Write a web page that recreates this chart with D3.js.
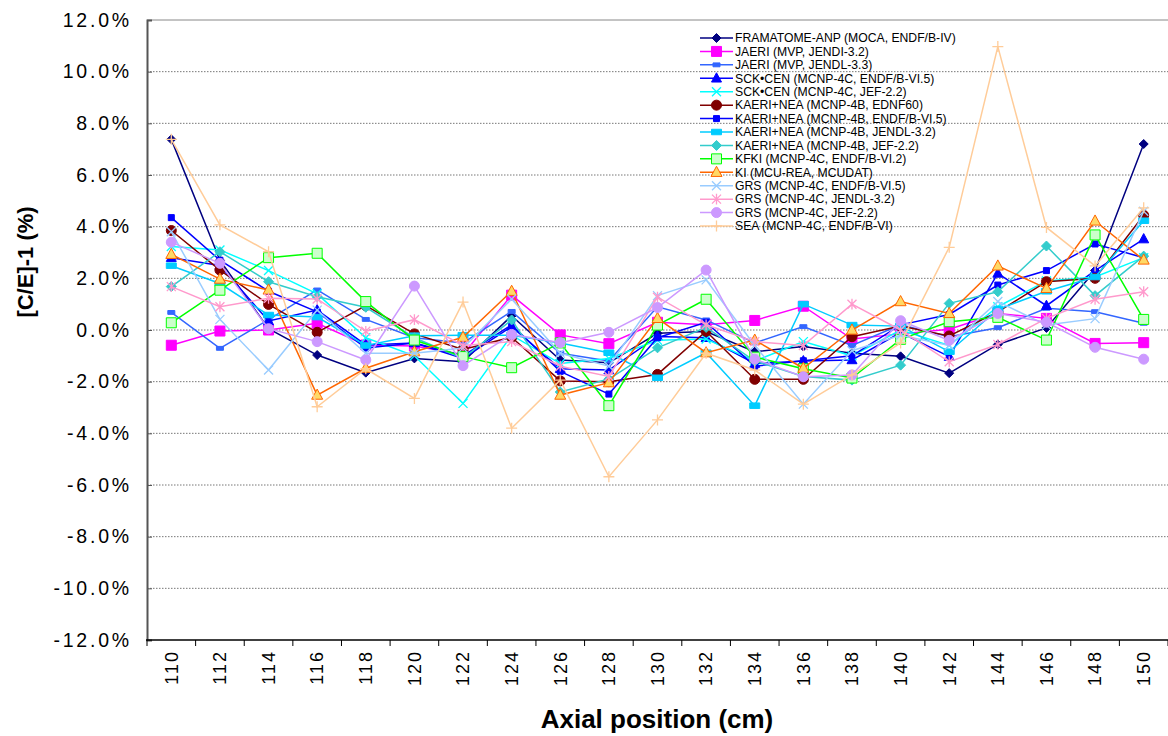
<!DOCTYPE html>
<html>
<head>
<meta charset="utf-8">
<script src="https://cdn.jsdelivr.net/npm/d3@7"></script>
<style>
  body { margin: 0; background: #fff; }
  svg { display: block; font-family: Arial, "Liberation Sans", sans-serif; }
</style>
</head>
<body>
<svg id="chart" width="1168" height="736"></svg>
<script>
// axial positions (cm) and y ticks (%)
var positions = [110, 112, 114, 116, 118, 120, 122, 124, 126, 128, 130, 132, 134, 136, 138, 140, 142, 144, 146, 148, 150];
var yTickValues = [-12, -10, -8, -6, -4, -2, 0, 2, 4, 6, 8, 10, 12];

var seriesNames = [
  "FRAMATOME-ANP (MOCA, ENDF/B-IV)",
  "JAERI (MVP, JENDI-3.2)",
  "JAERI (MVP, JENDL-3.3)",
  "SCK\u2022CEN (MCNP-4C, ENDF/B-VI.5)",
  "SCK\u2022CEN (MCNP-4C, JEF-2.2)",
  "KAERI+NEA (MCNP-4B, EDNF60)",
  "KAERI+NEA (MCNP-4B, ENDF/B-VI.5)",
  "KAERI+NEA (MCNP-4B, JENDL-3.2)",
  "KAERI+NEA (MCNP-4B, JEF-2.2)",
  "KFKI (MCNP-4C, ENDF/B-VI.2)",
  "KI (MCU-REA, MCUDAT)",
  "GRS (MCNP-4C, ENDF/B-VI.5)",
  "GRS (MCNP-4C, JENDL-3.2)",
  "GRS (MCNP-4C, JEF-2.2)",
  "SEA (MCNP-4C, ENDF/B-VI)"
];

// [C/E]-1 in %
var framatome  = [7.38, 2.7, 0.05, -0.97, -1.65, -1.1, -1.23, 0.55, -1.16, -1.27, -0.13, -0.06, -0.84, -0.64, -0.9, -1.02, -1.67, -0.56, 0.08, 2.3, 7.2];
var jaeriJ32   = [-0.59, -0.04, 0.0, 0.26, -0.58, -0.62, -0.95, 1.35, -0.19, -0.53, 0.3, 0.2, 0.37, 0.92, -0.35, -0.15, 0.03, 0.64, 0.45, -0.52, -0.49];
var jaeriJ33   = [0.68, -0.71, 0.4, 1.55, 0.41, -0.3, -0.5, 0.72, -0.9, -1.2, 0.9, 0.39, -0.5, 0.13, -0.6, 0.2, -0.26, 0.09, 0.84, 0.71, 0.26];
var sckEndf    = [2.8, 2.5, 0.35, 0.77, -0.58, -0.5, -1.1, 0.13, -1.5, -1.55, -0.25, -0.3, -1.3, -1.2, -1.16, -0.1, -1.03, 2.19, 0.94, 2.3, 3.52];
var sckJef     = [3.23, 3.1, 2.3, 1.4, -0.3, -1.0, -2.84, -0.2, -1.3, -1.1, -0.4, -0.35, -1.2, -0.45, -1.0, 0.0, -0.6, 0.9, 1.9, 2.05, 2.8];
var kaeriEdnf  = [3.85, 2.32, 0.99, -0.09, 0.94, -0.15, -0.75, -0.28, -1.97, -2.0, -1.72, -0.05, -1.91, -1.91, -0.26, 0.15, -0.23, 0.7, 1.87, 2.0, 4.44];
var kaeriEndf  = [4.35, 2.7, 1.5, 0.7, -0.7, -0.5, -1.0, 0.2, -1.6, -2.48, -0.3, 0.3, -1.4, -1.19, -1.0, 0.2, 0.6, 1.74, 2.3, 3.33, 2.8];
var kaeriJendl = [2.49, 1.8, 0.58, 0.5, -0.6, -0.22, -0.2, -0.2, -0.5, -0.88, -1.85, -0.88, -2.93, 1.0, 0.19, 0.15, -0.84, 0.8, 1.5, 2.05, 4.23];
var kaeriJef   = [1.68, 3.03, 1.87, 1.29, 0.88, -0.3, -1.1, 0.39, -2.4, -1.9, -0.69, 0.1, -1.2, -1.8, -1.94, -1.36, 1.03, 1.48, 3.25, 1.33, 2.86];
var kfki       = [0.28, 1.54, 2.8, 2.97, 1.1, -0.39, -1.03, -1.46, -0.5, -2.93, 0.19, 1.19, -1.05, -1.5, -1.86, -0.36, 0.32, 0.49, -0.39, 3.68, 0.41];
var ki         = [2.93, 1.97, 1.55, -2.52, -1.48, -0.84, -0.28, 1.5, -2.52, -2.04, 0.45, -0.88, -0.39, -1.48, 0.0, 1.1, 0.64, 2.48, 1.61, 4.22, 2.71];
var grsEndf    = [3.8, 0.41, -1.55, 0.77, -0.9, -0.9, -0.7, 1.2, -0.9, -1.4, 1.33, 1.94, -0.6, -2.87, -0.8, -0.2, -0.6, 1.1, 0.19, 0.44, 4.6];
var grsJendl   = [1.68, 0.9, 1.23, 1.2, -0.05, 0.4, -0.6, -0.45, -1.4, -1.8, 1.27, 0.2, -0.45, -0.6, 1.0, 0.0, -1.23, -0.56, 0.45, 1.19, 1.48];
var grsJef     = [3.4, 2.58, 0.05, -0.45, -1.16, 1.7, -1.38, -0.17, -0.49, -0.09, 0.87, 2.32, -1.13, -1.81, -1.74, 0.36, -0.4, 0.64, 0.3, -0.67, -1.13];
var sea        = [7.38, 4.07, 3.03, -2.97, -1.5, -2.65, 1.08, -3.8, -1.94, -5.68, -3.48, -0.9, -1.55, -2.87, -1.74, -0.5, 3.2, 10.97, 3.97, 2.48, 4.73];

var seriesValues = [framatome, jaeriJ32, jaeriJ33, sckEndf, sckJef, kaeriEdnf, kaeriEndf,
                    kaeriJendl, kaeriJef, kfki, ki, grsEndf, grsJendl, grsJef, sea];

// custom marker shapes (size = half width squared)
var shapes = {
  diamond: { draw: function(c, s) { var r = Math.sqrt(s); c.moveTo(0, -r); c.lineTo(r, 0); c.lineTo(0, r); c.lineTo(-r, 0); c.closePath(); } },
  square: { draw: function(c, s) { var r = Math.sqrt(s); c.rect(-r, -r, 2 * r, 2 * r); } },
  rect: { draw: function(c, s) { var r = Math.sqrt(s); c.rect(-r, -r * 0.55, 2 * r, r * 1.1); } },
  triangle: { draw: function(c, s) { var r = Math.sqrt(s); c.moveTo(0, -r * 1.1); c.lineTo(r, r * 0.75); c.lineTo(-r, r * 0.75); c.closePath(); } },
  circle: { draw: function(c, s) { var r = Math.sqrt(s); c.moveTo(r, 0); c.arc(0, 0, r, 0, 2 * Math.PI); } },
  times: { draw: function(c, s) { var r = Math.sqrt(s); c.moveTo(-r, -r); c.lineTo(r, r); c.moveTo(r, -r); c.lineTo(-r, r); } },
  star: { draw: function(c, s) { var r = Math.sqrt(s); c.moveTo(-r, -r); c.lineTo(r, r); c.moveTo(r, -r); c.lineTo(-r, r); c.moveTo(0, -r * 1.2); c.lineTo(0, r * 1.2); } },
  plus: { draw: function(c, s) { var r = Math.sqrt(s); c.moveTo(-r, 0); c.lineTo(r, 0); c.moveTo(0, -r); c.lineTo(0, r); } }
};

var seriesStyles = [
  { color: "#000080", shape: "diamond",  r: 4.5, fill: "#000080" },
  { color: "#ff00ff", shape: "square",   r: 5,   fill: "#ff00ff" },
  { color: "#3366ff", shape: "rect",     r: 3.5, fill: "#3366ff" },
  { color: "#0000ff", shape: "triangle", r: 5,   fill: "#0000ff" },
  { color: "#00ffff", shape: "times",    r: 4.5, fill: "none" },
  { color: "#800000", shape: "circle",   r: 5,   fill: "#800000" },
  { color: "#0000ff", shape: "square",   r: 3,   fill: "#0000ff" },
  { color: "#00ccff", shape: "rect",     r: 5,   fill: "#00ccff" },
  { color: "#33cccc", shape: "diamond",  r: 5,   fill: "#33cccc" },
  { color: "#00ff00", shape: "square",   r: 5,   fill: "#ccffcc" },
  { color: "#ff6600", shape: "triangle", r: 5.5, fill: "#ffd966" },
  { color: "#99ccff", shape: "times",    r: 4.5, fill: "none" },
  { color: "#ff99cc", shape: "star",     r: 4.5, fill: "none" },
  { color: "#cc99ff", shape: "circle",   r: 5,   fill: "#cc99ff" },
  { color: "#ffcc99", shape: "plus",     r: 5.5, fill: "none" }
];

var svg = d3.select("#chart");
var plotLeft = 147, plotRight = 1168, plotTop = 20, plotBottom = 640;

var x = d3.scaleBand().domain(positions).range([plotLeft, plotRight]);
var y = d3.scaleLinear().domain([-12, 12]).range([plotBottom, plotTop]);
var cx = function(p) { return x(p) + x.bandwidth() / 2; };

// gridlines
svg.append("g").selectAll("line")
  .data(yTickValues.filter(function(d) { return d > -12 && d < 12; }))
  .enter().append("line")
    .attr("x1", plotLeft).attr("x2", plotRight)
    .attr("y1", function(d) { return y(d); }).attr("y2", function(d) { return y(d); })
    .attr("stroke", "#777").attr("stroke-width", 1).attr("stroke-dasharray", "1.5,1.5");

svg.append("line").attr("x1", plotLeft).attr("x2", plotRight).attr("y1", plotTop).attr("y2", plotTop)
  .attr("stroke", "#888").attr("stroke-width", 1);

// y axis
var yAxis = d3.axisLeft(y).tickValues(yTickValues)
  .tickFormat(function(d) { return d.toFixed(1) + "%"; })
  .tickSize(-5).tickPadding(15);
var gy = svg.append("g").attr("transform", "translate(" + plotLeft + ",0)").call(yAxis);
gy.select(".domain").attr("stroke", "#555").attr("stroke-width", 2);
gy.selectAll(".tick line").attr("stroke", "#555");
gy.selectAll("text").attr("font-size", 19.5).attr("letter-spacing", "2.8px").attr("fill", "#000")
  .style("font-family", "Arial, 'Liberation Sans', sans-serif");

// x axis
var xAxis = d3.axisBottom(x).tickSize(0).tickPadding(0);
var gx = svg.append("g").attr("transform", "translate(0," + plotBottom + ")").call(xAxis);
gx.select(".domain").remove();
gx.selectAll("text")
  .attr("transform", "rotate(-90)")
  .attr("text-anchor", "end")
  .attr("x", -10).attr("y", 0).attr("dy", "0.35em")
  .attr("font-size", 18).attr("letter-spacing", "2px").attr("fill", "#000")
  .style("font-family", "Arial, 'Liberation Sans', sans-serif");

svg.append("g").selectAll("line")
  .data(positions.map(function(p) { return x(p); }).concat([plotRight]))
  .enter().append("line")
    .attr("x1", function(d) { return d; }).attr("x2", function(d) { return d; })
    .attr("y1", plotBottom).attr("y2", plotBottom + 6)
    .attr("stroke", "#000").attr("stroke-width", 1);
svg.append("line").attr("x1", plotLeft - 1).attr("x2", plotRight).attr("y1", plotBottom).attr("y2", plotBottom)
  .attr("stroke", "#000").attr("stroke-width", 1.5);

// axis titles
svg.append("text")
  .attr("x", 657).attr("y", 728)
  .attr("text-anchor", "middle")
  .attr("font-size", 26).attr("font-weight", "bold")
  .text("Axial position (cm)");

svg.append("text")
  .attr("transform", "translate(33,262) rotate(-90)")
  .attr("text-anchor", "middle")
  .attr("font-size", 22).attr("font-weight", "bold")
  .text("[C/E]-1 (%)");

// series
var line = d3.line()
  .x(function(d, i) { return cx(positions[i]); })
  .y(function(d) { return y(d); });

function drawMarker(g, st, px, py) {
  var sym = d3.symbol().type(shapes[st.shape]).size(st.r * st.r);
  g.append("path")
    .attr("transform", "translate(" + px + "," + py + ")")
    .attr("d", sym())
    .attr("fill", st.fill)
    .attr("stroke", st.color)
    .attr("stroke-width", st.fill === "none" ? 1.3 : 1);
}

seriesValues.forEach(function(vals, k) {
  var st = seriesStyles[k];
  var g = svg.append("g");
  g.append("path").datum(vals)
    .attr("d", line)
    .attr("fill", "none")
    .attr("stroke", st.color)
    .attr("stroke-width", 1.5);
  vals.forEach(function(v, i) { drawMarker(g, st, cx(positions[i]), y(v)); });
});

// legend
var legend = svg.append("g");
seriesNames.forEach(function(name, k) {
  var st = seriesStyles[k];
  var ly = 38 + k * 13.43;
  legend.append("line").attr("x1", 700).attr("x2", 733).attr("y1", ly).attr("y2", ly)
    .attr("stroke", st.color).attr("stroke-width", 1.5);
  drawMarker(legend, st, 716.5, ly);
  legend.append("text").attr("x", 735).attr("y", ly).attr("dy", "0.35em")
    .attr("font-size", 12.2).attr("fill", "#000").text(name);
});
</script>
</body>
</html>
